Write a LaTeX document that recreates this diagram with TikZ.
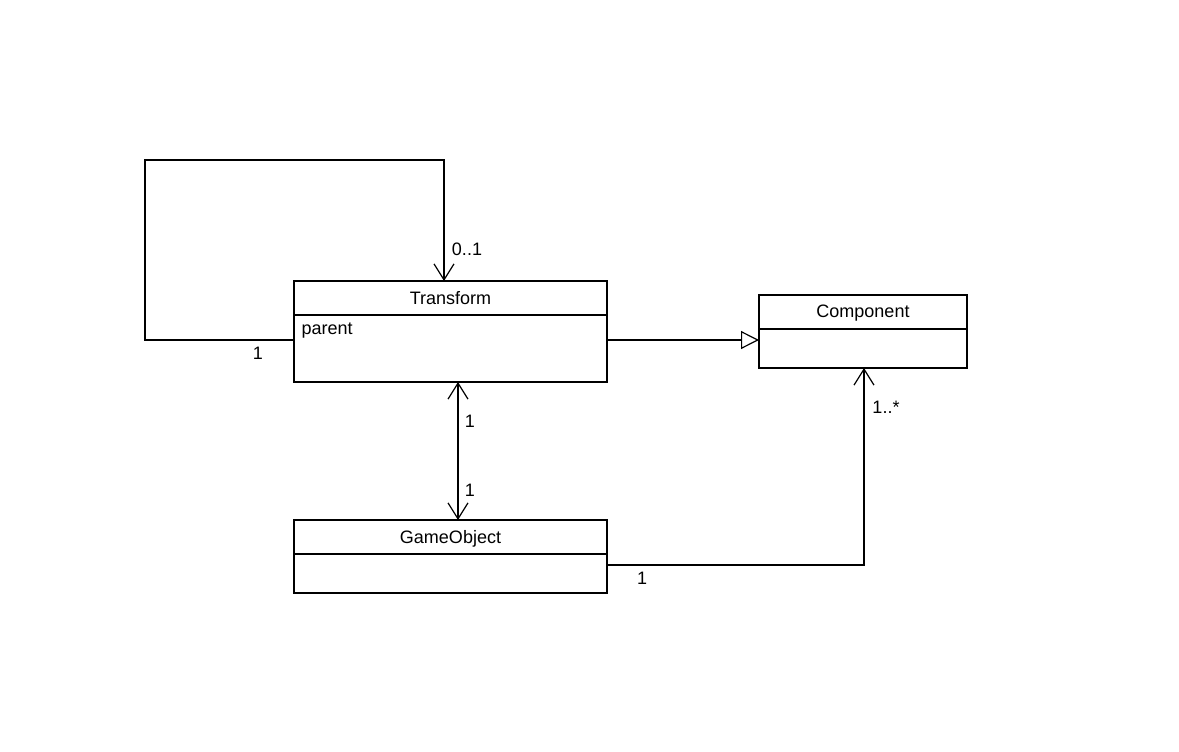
\documentclass[tikz,border=0pt]{standalone}
\usepackage{fontspec}
\setmainfont{Liberation Sans}
\usetikzlibrary{arrows.meta}
\begin{document}
\begin{tikzpicture}[x=1pt,y=-1pt,line width=1.2pt,
  box/.style={draw,minimum width=#1},
  lbl/.style={font=\fontsize{18}{22}\selectfont,inner sep=0pt},
  open/.style={-{Straight Barb[length=16pt,width=20pt,line width=1.2pt]}},
  gen/.style={-{Triangle[open,length=18pt,width=18pt,fill=white]}}]
\useasboundingbox (0,0) rectangle (1179,752);
% Transform
\draw (294,281) rectangle (607,382);
\draw (294,315) -- (607,315);
\node[lbl] (tt) at (450.5,298) {Transform};
\node[lbl,anchor=west] (tp) at (301,331) {parent};
\coordinate (tL) at (294,340);
\coordinate (tR) at (607,340);
\coordinate (tT) at (444,281);
\coordinate (tB) at (458,382);
% Component
\draw (759,295) rectangle (967,368);
\draw (759,329) -- (967,329);
\node[lbl] (ct) at (863,313) {Component};
\coordinate (cL) at (759,340);
\coordinate (cB) at (864,368);
% GameObject
\draw (294,520) rectangle (607,593);
\draw (294,554) -- (607,554);
\node[lbl] (gt) at (450.5,539) {GameObject};
\coordinate (gT) at (458,520);
\coordinate (gR) at (607,565);
% connectors
\draw[open] (tL) -- (145,340) -- (145,160) -- (444,160) -- (tT);
\node[lbl] (l1) at (258,353) {1};
\node[lbl] (l01) at (467,249) {0..1};
\draw[gen] (tR) -- (cL);
\draw[open] (gT) -- (tB);
\draw[open] (tB) -- (gT);
\node[lbl] (l2) at (470,421) {1};
\node[lbl] (l3) at (470,490) {1};
\draw[open] (gR) -- (864,565) -- (cB);
\node[lbl] (l4) at (642,578) {1};
\node[lbl] (l5) at (886,407) {1..*};
\end{tikzpicture}
\end{document}
